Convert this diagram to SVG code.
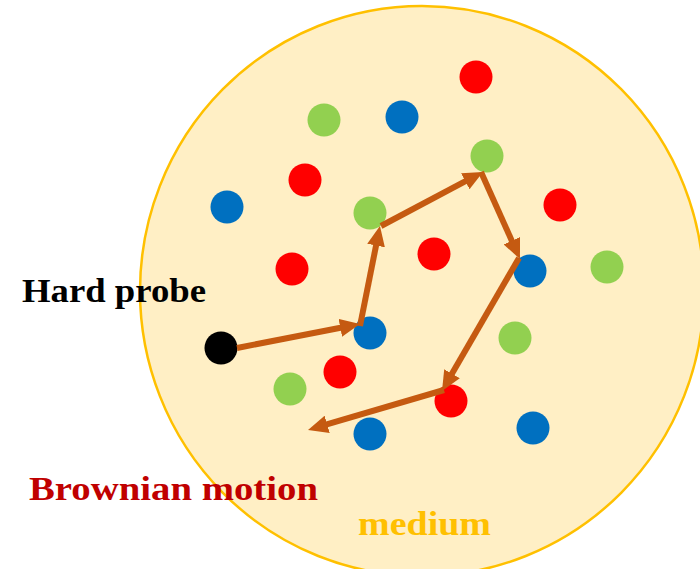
<svg xmlns="http://www.w3.org/2000/svg" width="700" height="569" viewBox="0 0 700 569">
<style>
.r{fill:#FF0000}.g{fill:#92D050}.b{fill:#0070C0}.k{fill:#000000}
.lbl{font-family:"Liberation Serif","Times New Roman",serif;font-weight:bold}
.a{stroke:#C55A11;stroke-width:6;fill:none;marker-end:url(#ah)}
</style>
<defs>
<marker id="ah" markerUnits="userSpaceOnUse" viewBox="0 0 20 18" refX="12" refY="9" markerWidth="20" markerHeight="18" orient="auto">
<path d="M0,0 L20,9 L0,18 Z" fill="#C55A11"/>
</marker>
</defs>
<rect width="700" height="569" fill="#FFFFFF"/>
<g id="medium">
<ellipse cx="422" cy="291" rx="282" ry="285" fill="#FFEFC5" stroke="#FFC000" stroke-width="2.5"/>
</g>
<g id="particles">
<circle class="r" cx="476" cy="77" r="16.5"/>
<circle class="r" cx="305" cy="180" r="16.5"/>
<circle class="r" cx="560" cy="205" r="16.5"/>
<circle class="r" cx="434" cy="254" r="16.5"/>
<circle class="r" cx="292" cy="269" r="16.5"/>
<circle class="r" cx="340" cy="372" r="16.5"/>
<circle class="r" cx="451" cy="401" r="16.5"/>
<circle class="g" cx="324" cy="120" r="16.5"/>
<circle class="g" cx="487" cy="156" r="16.5"/>
<circle class="g" cx="370" cy="213" r="16.5"/>
<circle class="g" cx="607" cy="267" r="16.5"/>
<circle class="g" cx="515" cy="338" r="16.5"/>
<circle class="g" cx="290" cy="389" r="16.5"/>
<circle class="b" cx="402" cy="117" r="16.5"/>
<circle class="b" cx="227" cy="207" r="16.5"/>
<circle class="b" cx="530" cy="271" r="16.5"/>
<circle class="b" cx="370" cy="333" r="16.5"/>
<circle class="b" cx="533" cy="428" r="16.5"/>
<circle class="b" cx="370" cy="434" r="16.5"/>
</g>
<g id="probe">
<circle class="k" cx="221" cy="348" r="16.5"/>
</g>
<g id="connectors">
<line class="a" x1="237" y1="348" x2="352.1" y2="325.5"/>
<line class="a" x1="360" y1="326" x2="378.4" y2="233.8"/>
<line class="a" x1="381" y1="226" x2="475.9" y2="175.7"/>
<line class="a" x1="481" y1="172" x2="516.7" y2="251.7"/>
<line class="a" x1="519" y1="258" x2="446" y2="384.1"/>
<line class="a" x1="444" y1="390" x2="315.7" y2="427.7"/>
</g>
<g id="labels">
<text class="lbl" x="22" y="302" font-size="34" textLength="184" lengthAdjust="spacingAndGlyphs" fill="#000000">Hard probe</text>
<text class="lbl" x="29" y="500" font-size="34" textLength="289" lengthAdjust="spacingAndGlyphs" fill="#C00000">Brownian motion</text>
<text class="lbl" x="358" y="535" font-size="34" textLength="133" lengthAdjust="spacingAndGlyphs" fill="#FFC000">medium</text>
</g>
</svg>
